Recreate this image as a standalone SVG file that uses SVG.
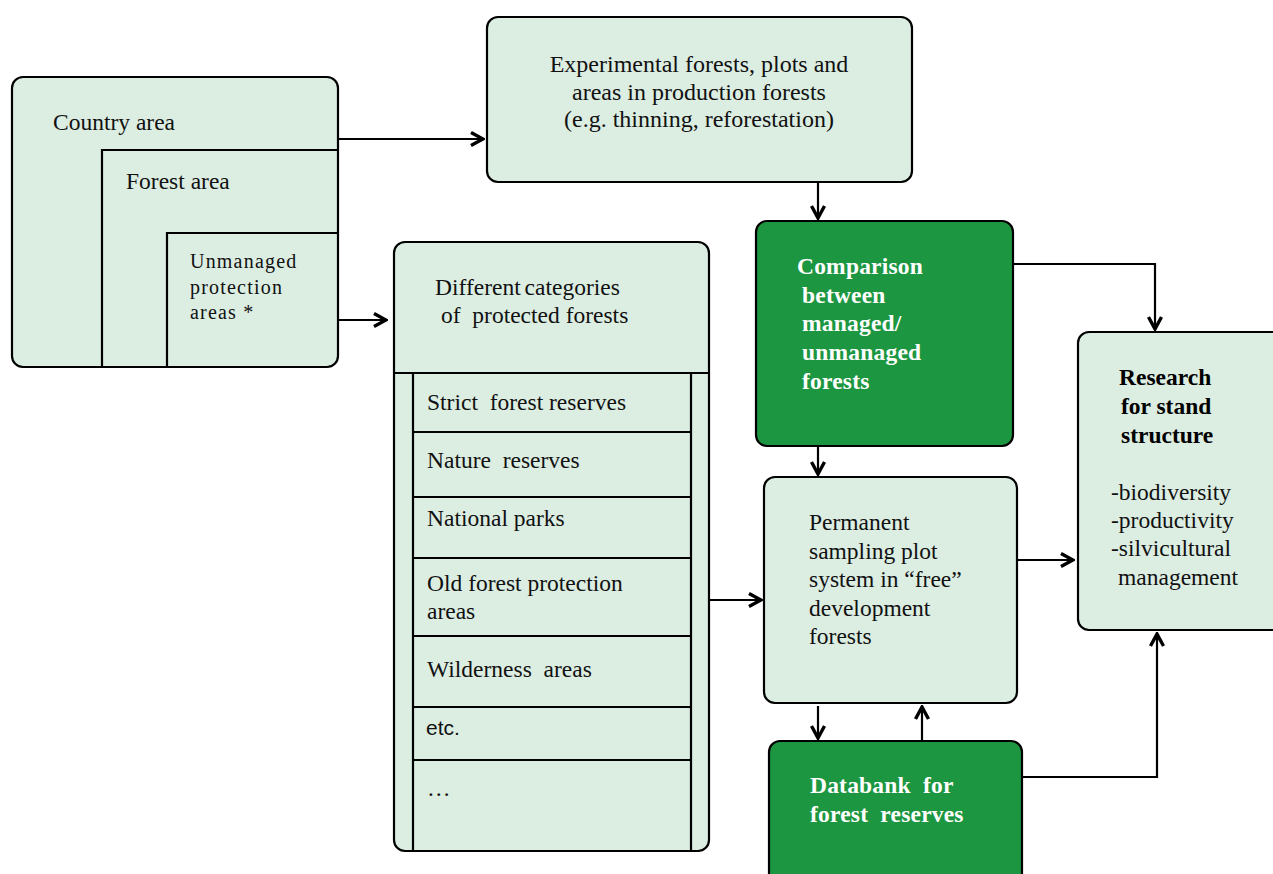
<svg xmlns="http://www.w3.org/2000/svg" width="1273" height="874" viewBox="0 0 1273 874">
<defs>
<style>
.lt{fill:#dcede2;stroke:#000;stroke-width:2.2}
.dk{fill:#1c9640;stroke:#000;stroke-width:2.2}
.ln{fill:none;stroke:#000;stroke-width:2.2}
.t{font-family:"Liberation Serif","Times New Roman",serif;font-size:23.5px;fill:#111}
.w{font-family:"Liberation Serif","Times New Roman",serif;font-size:23.5px;font-weight:bold;fill:#fff;letter-spacing:0.2px}
.b{font-family:"Liberation Serif","Times New Roman",serif;font-size:23.5px;font-weight:bold;fill:#000}
.s{font-family:"Liberation Sans",Arial,sans-serif;font-size:21px;fill:#111}
.c{fill:none;stroke:#000;stroke-width:2.2}
</style>
<marker id="ar" viewBox="0 0 16 16" refX="14" refY="8" markerWidth="16" markerHeight="16" markerUnits="userSpaceOnUse" orient="auto">
<path d="M2,1.5 L14,8 L2,14.5" fill="none" stroke="#000" stroke-width="3.4" stroke-linejoin="miter"/>
</marker>
</defs>
<rect width="1273" height="874" fill="#fff"/>

<g id="country">
<rect class="lt" x="12" y="77" width="326" height="290" rx="11"/>
<path class="ln" d="M102,367 V150 H338 M167,367 V233 H338"/>
<text class="t" x="53" y="130">Country area</text>
<text class="t" x="126" y="189">Forest area</text>
<text class="t" x="190" y="268" style="font-size:20px;letter-spacing:1.2px">Unmanaged</text>
<text class="t" x="190" y="294" style="font-size:20px;letter-spacing:1.2px">protection</text>
<text class="t" x="190" y="319" style="font-size:20px;letter-spacing:1.2px">areas *</text>
</g>

<g id="experimental">
<rect class="lt" x="487" y="17" width="425" height="165" rx="11"/>
<text class="t" x="699" y="72" text-anchor="middle" style="font-size:24px">Experimental forests, plots and</text>
<text class="t" x="699" y="100" text-anchor="middle" style="font-size:24px">areas in production forests</text>
<text class="t" x="699" y="127" text-anchor="middle" style="font-size:24px">(e.g. thinning, reforestation)</text>
</g>

<g id="categories">
<rect class="lt" x="394" y="242" width="315" height="609" rx="11"/>
<path class="ln" d="M394,373 H709 M413,373 V851 M691,373 V851 M413,432 H691 M413,497 H691 M413,558 H691 M413,636 H691 M413,707 H691 M413,760 H691"/>
<text class="t" x="435" y="295" style="word-spacing:-2px">Different categories</text>
<text class="t" x="441" y="323">of&#160; protected forests</text>
<text class="t" x="427" y="410">Strict&#160; forest reserves</text>
<text class="t" x="427" y="468">Nature&#160; reserves</text>
<text class="t" x="427" y="526">National parks</text>
<text class="t" x="427" y="591">Old forest protection</text>
<text class="t" x="427" y="619">areas</text>
<text class="t" x="427" y="677">Wilderness&#160; areas</text>
<text class="s" x="426" y="735">etc.</text>
<text class="t" x="427" y="796">…</text>
</g>

<g id="comparison">
<rect class="dk" x="756" y="221" width="257" height="225" rx="11"/>
<text class="w" x="797" y="274">Comparison</text>
<text class="w" x="802" y="303">between</text>
<text class="w" x="802" y="331">managed/</text>
<text class="w" x="802" y="360">unmanaged</text>
<text class="w" x="802" y="389">forests</text>
</g>

<g id="permanent">
<rect class="lt" x="764" y="477" width="253" height="226" rx="11"/>
<text class="t" x="809" y="530">Permanent</text>
<text class="t" x="809" y="559">sampling plot</text>
<text class="t" x="809" y="587">system in “free”</text>
<text class="t" x="809" y="616">development</text>
<text class="t" x="809" y="644">forests</text>
</g>

<g id="databank">
<rect class="dk" x="769" y="741" width="253" height="150" rx="11"/>
<text class="w" x="810" y="793">Databank&#160; for</text>
<text class="w" x="810" y="822">forest&#160; reserves</text>
</g>

<g id="research">
<rect class="lt" x="1078" y="332" width="210" height="298" rx="11"/>
<text class="b" x="1119" y="385">Research</text>
<text class="b" x="1121" y="414">for stand</text>
<text class="b" x="1121" y="443">structure</text>
<text class="t" x="1111" y="500">-biodiversity</text>
<text class="t" x="1111" y="528">-productivity</text>
<text class="t" x="1111" y="556">-silvicultural</text>
<text class="t" x="1118" y="585">management</text>
</g>

<g id="connectors">
<path class="c" d="M338,139 H483" marker-end="url(#ar)"/>
<path class="c" d="M338,320 H386" marker-end="url(#ar)"/>
<path class="c" d="M818,182 V218" marker-end="url(#ar)"/>
<path class="c" d="M818,446 V474" marker-end="url(#ar)"/>
<path class="c" d="M1013,264 H1155 V329" marker-end="url(#ar)"/>
<path class="c" d="M709,600 H761" marker-end="url(#ar)"/>
<path class="c" d="M1017,560 H1073" marker-end="url(#ar)"/>
<path class="c" d="M818,706 V738" marker-end="url(#ar)"/>
<path class="c" d="M922,741 V707" marker-end="url(#ar)"/>
<path class="c" d="M1022,777 H1157 V634" marker-end="url(#ar)"/>
</g>
</svg>
